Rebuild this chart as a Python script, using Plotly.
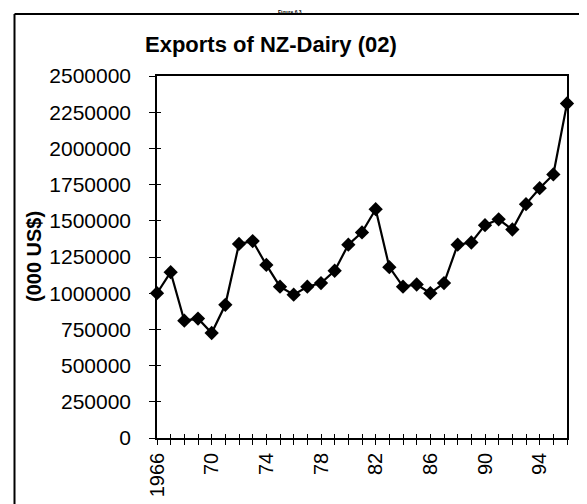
import plotly.graph_objects as go

years = list(range(1966, 1997))
exports = [1000000, 1145000, 810000, 825000, 725000, 920000, 1340000, 1360000,
           1195000, 1045000, 990000, 1045000, 1070000, 1155000, 1335000, 1420000,
           1580000, 1180000, 1045000, 1060000, 1000000, 1070000, 1335000, 1350000,
           1470000, 1510000, 1440000, 1615000, 1725000, 1820000, 2310000]
y_ticks = [0, 250000, 500000, 750000, 1000000, 1250000, 1500000, 1750000,
           2000000, 2250000, 2500000]
x_labels = {1966: "1966", 1970: "70", 1974: "74", 1978: "78", 1982: "82",
            1986: "86", 1990: "90", 1994: "94"}
title_text = "Exports of NZ-Dairy (02)"
y_title = "(000 US$)"

W, H = 587, 504
L, R, T, B = 149, 28, 68, 74
pw, ph = W - L - R, H - T - B

def px(x):
    return (x - L) / pw

def py(y):
    return (H - B - y) / ph

FONT = "Liberation Sans, Arial, sans-serif"

fig = go.Figure()
fig.add_trace(go.Scatter(
    x=years, y=exports, mode="lines+markers",
    line=dict(color="black", width=2.2),
    marker=dict(symbol="diamond", size=11, color="black"),
    showlegend=False, cliponaxis=False,
))
fig.add_trace(go.Scatter(
    x=years, y=exports, xaxis="x2", yaxis="y2", mode="lines",
    line=dict(width=0), opacity=0, showlegend=False, hoverinfo="skip",
))

ticktext = [x_labels.get(y, "") for y in years]

fig.update_layout(
    width=W, height=H,
    margin=dict(l=L, r=R, t=T, b=B),
    paper_bgcolor="white", plot_bgcolor="white",
    font=dict(family=FONT, color="black"),
    xaxis=dict(range=[1966, 1996], tickvals=years, ticktext=ticktext,
               tickangle=-90, ticks="outside", ticklen=5, tickwidth=1,
               tickcolor="black", showline=True, linecolor="black",
               linewidth=1.5, mirror=True, showgrid=False, zeroline=False,
               tickfont=dict(size=20, family=FONT)),
    yaxis=dict(range=[0, 2500000], tickvals=y_ticks,
               ticktext=[str(v) for v in y_ticks],
               ticks="outside", ticklen=6, tickwidth=1, tickcolor="black",
               showline=True, linecolor="black", linewidth=1.5, mirror=True,
               showgrid=False, zeroline=False, ticklabelstandoff=14,
               tickfont=dict(size=21, family=FONT)),
    xaxis2=dict(range=[1966, 1996], overlaying="x", tickvals=years,
                showticklabels=False, ticks="inside", ticklen=4, tickwidth=1,
                tickcolor="black", showline=False, showgrid=False,
                zeroline=False, side="bottom"),
    yaxis2=dict(range=[0, 2500000], overlaying="y", tickvals=y_ticks,
                showticklabels=False, ticks="inside", ticklen=4, tickwidth=1,
                tickcolor="black", showline=False, showgrid=False,
                zeroline=False, side="left"),
    shapes=[
        dict(type="line", xref="paper", yref="paper", x0=px(6.5), x1=px(6.5),
             y0=py(6), y1=py(520), line=dict(color="black", width=2)),
        dict(type="line", xref="paper", yref="paper", x0=px(6.5), x1=px(600),
             y0=py(6), y1=py(6), line=dict(color="black", width=2)),
    ],
    annotations=[
        dict(text="<b>" + title_text + "</b>", xref="paper", yref="paper",
             x=px(263), y=py(37), xanchor="center", yanchor="middle",
             showarrow=False, font=dict(size=22, family=FONT)),
        dict(text="<b>" + y_title + "</b>", xref="paper", yref="paper",
             x=px(26), y=py(249), xanchor="center", yanchor="middle",
             textangle=-90, showarrow=False, font=dict(size=20, family=FONT)),
        dict(text="<b>Figure 6.3</b>", xref="paper", yref="paper",
             x=px(282), y=py(0), xanchor="center", yanchor="top",
             borderpad=0, showarrow=False,
             font=dict(size=5, family=FONT, color="black")),
    ],
)

fig.write_html("out.html")
